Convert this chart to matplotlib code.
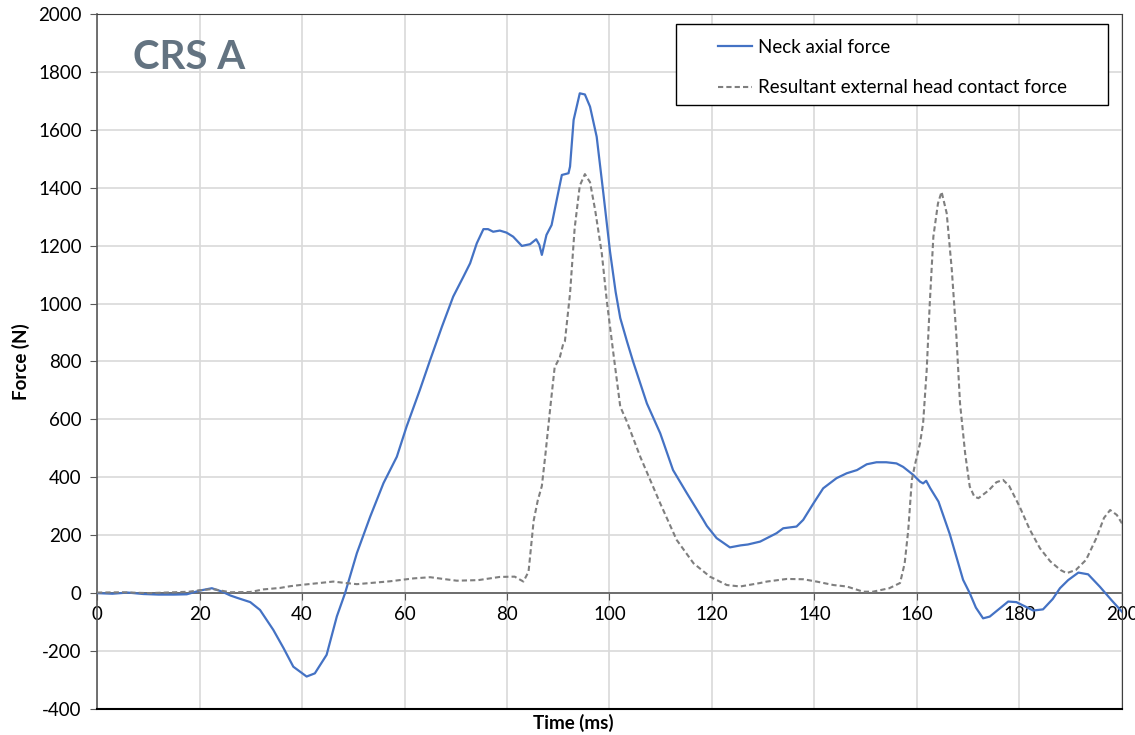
import matplotlib
matplotlib.use("Agg")
import matplotlib.pyplot as plt
from matplotlib.patches import Rectangle

# neck axial force (N) vs time (ms)
t_neck = [0, 3, 6, 9, 12, 15, 17.5, 20.1, 22.4, 24.3, 26, 27.3, 29.9, 31.8, 34.4, 36.4,
          38.3, 40.9, 42.5, 44.8, 46.8, 48.4, 50.7, 53.3, 55.9, 58.5, 60.4, 63, 65, 67.3,
          69.5, 71.5, 72.8, 74.1, 75.4, 76.3, 77.3, 78.6, 79.9, 81.2, 82.9, 84.5, 85.7,
          86.3, 86.8, 87.7, 88.7, 89.7, 90.7, 92.0, 92.3, 93.0, 94.2, 95.2, 96.2, 97.5,
          98.8, 100.1, 101.2, 102.1, 103.4, 104.6, 107.3, 109.9, 112.4, 115.1, 118.3, 119,
          120.9, 123.5, 125.6, 127, 129.4, 132.6, 133.9, 136.5, 137.8, 139.8, 141.7, 144.3,
          146.3, 148.3, 150.2, 152.1, 154, 156, 157.3, 159.3, 160.6, 161.2, 161.8, 162.6,
          164.2, 166.4, 169, 170.3, 171.5, 172.9, 174.2, 176, 177.8, 179.4, 181, 182.7,
          184.6, 186.5, 187.9, 189.5, 191.5, 193.4, 195.7, 198, 200]
neck_force = [0, -2, 2, -3, -5, -5, -4, 9, 17, 6, -8, -16, -31, -58, -127, -190,
              -254, -288, -277, -213, -80, 0, 138, 264, 380, 471, 575, 702, 805, 920,
              1024, 1093, 1139, 1208, 1257, 1257, 1248, 1252, 1245, 1231, 1199, 1205, 1222,
              1203, 1168, 1237, 1271, 1358, 1444, 1450, 1473, 1634, 1726, 1722, 1680, 1576,
              1381, 1180, 1040, 950, 870, 800, 655, 552, 425, 345, 253, 232,
              190, 158, 165, 168, 178, 207, 224, 230, 253, 310, 362, 397,
              414, 425, 445, 452, 452, 448, 436, 408, 385, 379, 388, 362,
              316, 204, 46, 0, -50, -87, -81, -55, -29, -31, -45, -60,
              -56, -20, 17, 45, 71, 65, 22, -25, -64]

# resultant external head contact force (N) vs time (ms)
t_head = [0, 5, 10, 15, 18, 20, 22.6, 26, 29.9, 32.5, 35.7, 37.7, 39.6, 42.9, 46.1, 48,
          50.7, 55.3, 57.2, 61.8, 65, 68, 70.2, 74.4, 78.6, 81.5, 83.2, 84.2, 84.5, 85.2,
          86, 86.8, 87.5, 88.5, 89.3, 90.3, 91.0, 91.3, 92.3, 93.2, 94.2, 95.2, 96.2, 97.2,
          98.5, 99.5, 100.8, 102.1, 103.4, 106, 109.9, 113.1, 116.4, 119.6, 122.9, 125.5,
          129.4, 130.7, 134.6, 137.8, 140.4, 143.7, 146.3, 149.5, 151.4, 154.6, 156.7,
          157.6, 158.3, 159, 159.6, 160.6, 161.2, 161.9, 162.5, 163.2, 164.1, 164.8, 165.8,
          166.8, 167.7, 168.4, 169.4, 170.3, 171.2, 172, 174, 175.5, 176.8, 178, 180, 182,
          184, 186, 188, 189.2, 191, 193, 195, 196.5, 197.7, 199, 200]
head_force = [2, 3, 0, 3, 5, 10, 14, 3, 4, 13, 18, 24, 28, 34, 40, 36,
              31, 38, 41, 51, 55, 48, 43, 45, 56, 57, 40, 74, 126, 250,
              320, 370, 480, 650, 780, 814, 863, 870, 1035, 1260, 1407, 1447, 1419, 1323,
              1173, 1005, 822, 644, 592, 471, 310, 184, 103, 57, 28, 23,
              35, 40, 49, 48, 40, 28, 23, 5, 5, 17, 35,
              103, 218, 391, 443, 518, 587, 771, 1001, 1231, 1346, 1386, 1312,
              1116, 886, 656, 483, 368, 333, 328, 355, 383, 391, 370, 300, 220,
              155, 110, 80, 69, 80, 115, 190, 260, 287, 270, 241]

x_ticks = list(range(0, 201, 20))
y_ticks = list(range(-400, 2001, 200))

plt.rcParams['font.family'] = ['Lato', 'DejaVu Sans']
plt.rcParams['axes.unicode_minus'] = False

fig = plt.figure(figsize=(11.35, 7.35), dpi=100)
ax = fig.add_axes([0.0855, 0.0354, 0.9030, 0.9456])

ax.plot(t_neck, neck_force, color='#4472C4', lw=1.6, label='Neck axial force', zorder=3)
ax.plot(t_head, head_force, color='#7F7F7F', lw=1.5, ls=(0, (2.5, 1.5)),
        label='Resultant external head contact force', zorder=3)

ax.set_xlim(0, 200)
ax.set_ylim(-400, 2000)
ax.set_xticks(x_ticks)
ax.set_yticks(y_ticks)
ax.grid(True, color='#D9D9D9', lw=1.2, zorder=0)
ax.set_axisbelow(True)

# x axis runs along zero, with the outer frame kept at the limits
ax.spines['bottom'].set_position(('data', 0))
ax.spines['bottom'].set_color('#595959')
ax.spines['bottom'].set_linewidth(1.2)
ax.spines['left'].set_color('#595959')
ax.spines['left'].set_linewidth(1.2)
ax.spines['top'].set_color('#404040')
ax.spines['right'].set_color('#404040')
ax.axhline(-400, color='black', lw=1.5, clip_on=False, zorder=4)

ax.tick_params(axis='x', direction='out', length=5, color='#595959', labelsize=13.5, pad=4)
ax.tick_params(axis='y', direction='out', length=5, color='#595959', labelsize=13.5, pad=6)
for lbl in ax.get_xticklabels():
    lbl.set_clip_on(False)

ax.text(7, 1915, 'CRS A', fontsize=29, fontweight='bold', color='#637381',
        va='top', ha='left')

ax.set_ylabel('Force (N)', fontsize=13.5, fontweight='bold', labelpad=6)
fig.text(0.5055, 0.0165, 'Time (ms)', fontsize=13.5, fontweight='bold',
         ha='center', va='center')

# legend box with wide left margin
ax.add_patch(Rectangle((0.565, 0.869), 0.4213, 0.1166, transform=ax.transAxes,
                       facecolor='white', edgecolor='black', lw=1.0, zorder=5))
leg = ax.legend(loc='upper left', bbox_to_anchor=(0.606, 0.964), fontsize=13.5,
                frameon=False, handlelength=1.8, handletextpad=0.3,
                borderpad=0, labelspacing=1.25, borderaxespad=0)
leg.set_zorder(6)

fig.savefig('out.png', dpi=100)
